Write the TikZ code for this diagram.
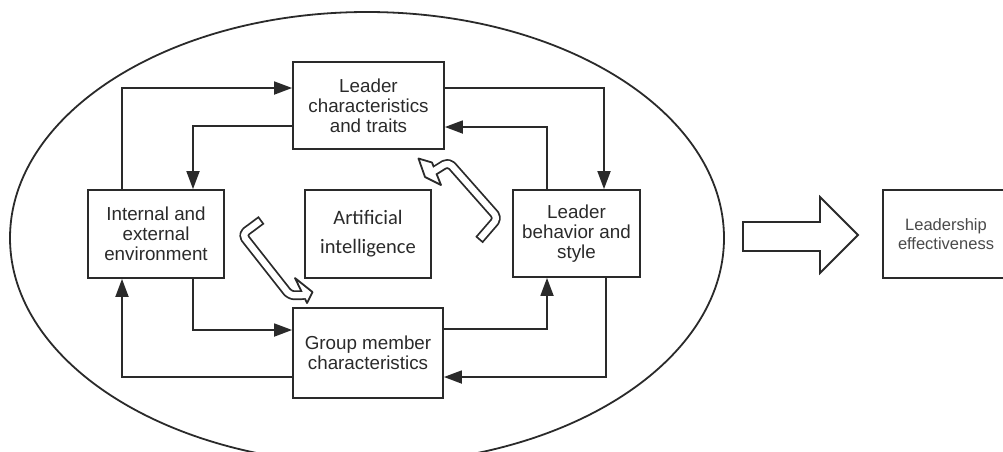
\documentclass[tikz,border=0pt]{standalone}
\usepackage{fontspec}
\setmainfont{Liberation Sans}
\newfontfamily\aifont{Carlito}
\usetikzlibrary{arrows.meta,calc}

\definecolor{ink}{HTML}{2A2A2A}

\tikzset{
  box/.style={draw=ink, line width=1.8pt, rectangle, inner sep=0pt, align=center,
              text=ink, font={\fontsize{18.8}{19.8}\selectfont}},
  conn/.style={draw=ink, line width=1.8pt, line join=miter,
               -{Triangle[length=18pt,width=13pt]}},
  shaftouter/.style={draw=ink, line width=9.8pt, rounded corners=5pt, line join=round},
  shaftinner/.style={draw=white, line width=6.2pt, rounded corners=5pt, line join=round},
  headshape/.style={draw=ink, fill=white, line width=1.8pt, line join=round},
}

\begin{document}
\begin{tikzpicture}[x=1pt, y=-1pt]
  \useasboundingbox (0,0) rectangle (1003,451);
  \clip (0,0) rectangle (1003,451);

  % surrounding ellipse
  \draw[ink, line width=1.8pt] (367,238) ellipse [x radius=357pt, y radius=226pt];

  % the five boxes inside the ellipse
  \node[box, minimum width=151pt, minimum height=87pt] (lc) at (368.5,105.5)
    {Leader\\characteristics\\and traits};
  \node[box, minimum width=136pt, minimum height=88pt] (ie) at (156,234)
    {Internal and\\external\\environment};
  \node[box, minimum width=126pt, minimum height=88pt,
        font={\aifont\fontsize{20.5}{29}\selectfont}] (ai) at (368,234)
    {\raisebox{3pt}{Artificial}\\\raisebox{3pt}{intelligence}};
  \node[box, minimum width=127pt, minimum height=87pt] (lb) at (576.5,233.5)
    {Leader\\behavior and\\style};
  \node[box, minimum width=150pt, minimum height=90pt] (gm) at (368,353)
    {Group member\\characteristics};

  % outcome box
  \node[box, minimum width=126pt, minimum height=88pt, text=ink!85,
        font={\fontsize{16.5}{19}\selectfont}] (le) at (946,234)
    {\raisebox{-2pt}{Leadership}\\\raisebox{-2pt}{effectiveness}};

  % connectors between the boxes
  \draw[conn] ([xshift=-34pt]ie.north) |- ([yshift=17.5pt]lc.west);
  \draw[conn] ([yshift=-20.5pt]lc.west) -| ([xshift=37pt]ie.north);
  \draw[conn] ([yshift=17.5pt]lc.east) -| ([xshift=27.5pt]lb.north);
  \draw[conn] ([xshift=-29.5pt]lb.north) |- ([yshift=-21.5pt]lc.east);
  \draw[conn] ([xshift=37pt]ie.south) |- ([yshift=23pt]gm.west);
  \draw[conn] ([yshift=-24pt]gm.west) -| ([xshift=-34pt]ie.south);
  \draw[conn] ([yshift=24pt]gm.east) -| ([xshift=-29.5pt]lb.south);
  \draw[conn] ([xshift=29.5pt]lb.south) |- ([yshift=-24pt]gm.east);

  % hollow hooked arrow, lower left
  \coordinate (la1) at (261.5,220);
  \coordinate (la2) at (242,234.5);
  \coordinate (la3) at (290,295.5);
  \coordinate (laE) at (304,295);
  \coordinate (laF) at (307,295);
  \draw[shaftouter] (la1) -- (la2) -- (la3) -- (laE);
  \draw[headshape] (295,278) -- (312.5,292) -- (307,303) -- cycle;
  \draw[shaftinner, shorten <=1.8pt] (la1) -- (la2) -- (la3) -- (laF);

  % hollow hooked arrow, upper right
  \coordinate (ra1) at (479,240);
  \coordinate (ra2) at (498,218);
  \coordinate (ra3) at (448.5,162);
  \coordinate (raE) at (435,170.5);
  \coordinate (raF) at (432,172.2);
  \draw[shaftouter] (ra1) -- (ra2) -- (ra3) -- (raE);
  \draw[headshape] (432,162.5) -- (418.5,158.5) -- (425,177) -- (441,185) -- cycle;
  \draw[shaftinner, shorten <=1.8pt] (ra1) -- (ra2) -- (ra3) -- (raF);

  % broad hollow arrow towards the outcome
  \draw[ink, line width=1.8pt, line join=miter]
    (743,222) -- (820,222) -- (820,197) -- (858,235) -- (820,273) -- (820,251)
    -- (743,251) -- cycle;
\end{tikzpicture}
\end{document}
